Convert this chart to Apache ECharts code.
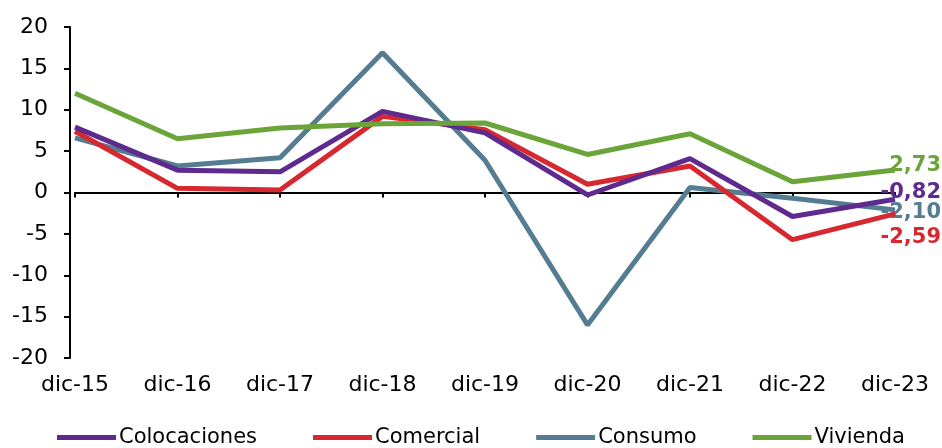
<!DOCTYPE html>
<html style="height: 100%">
<head>
<meta charset="UTF-8">
<title>Colocaciones</title>
<script src="https://cdn.jsdelivr.net/npm/echarts@6/dist/echarts.min.js"></script>
</head>
<body style="height: 100%;margin: 0">
<div id="chart" style="width:942px;height:448px"></div>
<script type="text/javascript">
// categories and values
var categories = ['dic-15','dic-16','dic-17','dic-18','dic-19','dic-20','dic-21','dic-22','dic-23'];
var colocaciones = [7.9, 2.7, 2.5, 9.8, 7.2, -0.3, 4.1, -2.9, -0.82];
var comercial = [7.4, 0.5, 0.3, 9.2, 7.6, 1.0, 3.2, -5.7, -2.59];
var consumo = [6.6, 3.2, 4.2, 16.9, 3.9, -16.0, 0.6, -0.7, -2.10];
var vivienda = [12.0, 6.5, 7.8, 8.3, 8.4, 4.6, 7.1, 1.3, 2.73];

var dom = document.getElementById("chart");
var myChart = echarts.init(dom);

var axisFont = {color: '#000', fontSize: 22, fontFamily: 'DejaVu Sans'};

function makeSeries(name, data, color, dy, z){
	return {
		name: name,
		type: 'line',
		data: data,
		z: z,
		symbol: 'none',
		lineStyle: {color: color, width: 5},
		itemStyle: {color: color},
		endLabel: {
			show: true,
			// comma as decimal mark, like the original
			formatter: function(p){ return p.value.toFixed(2).replace('.', ','); },
			color: color,
			fontSize: 21,
			fontWeight: 'bold',
			fontFamily: 'DejaVu Sans',
			align: 'right',
			offset: [38, dy]
		}
	};
}

var option = {
	animation: false,
	grid: {left: 75, right: 47, top: 27, bottom: 90},
	legend: {
		bottom: -5,
		left: 52,
		icon: 'rect',
		itemWidth: 59,
		itemHeight: 5,
		itemGap: 56,
		textStyle: {color: '#000', fontSize: 21, fontFamily: 'DejaVu Sans', padding: [0, 0, 0, -2]},
		data: ['Colocaciones','Comercial','Consumo','Vivienda']
	},
	xAxis: [{
		type: 'category',
		data: categories,
		boundaryGap: false,
		axisLine: {onZero: true, lineStyle: {color: '#000', width: 2}},
		axisTick: {show: true, length: 5, lineStyle: {color: '#000', width: 2}},
		axisLabel: {show: false},
		splitLine: {show: false}
	}, {
		type: 'category',
		data: categories,
		boundaryGap: false,
		position: 'bottom',
		axisLine: {show: false, onZero: false},
		axisTick: {show: false},
		axisLabel: Object.assign({margin: 16}, axisFont),
		splitLine: {show: false}
	}],
	yAxis: {
		type: 'value',
		min: -20,
		max: 20,
		interval: 5,
		offset: 5,
		axisLine: {show: true, lineStyle: {color: '#000', width: 2}},
		axisTick: {show: true, length: 6, lineStyle: {color: '#000', width: 2}},
		axisLabel: Object.assign({margin: 22}, axisFont),
		splitLine: {show: false}
	},
	series: [
		makeSeries('Colocaciones', colocaciones, '#5E2A8E', -7, 5),
		makeSeries('Comercial', comercial, '#D7282F', 24, 4),
		makeSeries('Consumo', consumo, '#547D91', 3, 3),
		makeSeries('Vivienda', vivienda, '#6BA539', -4, 6)
	]
};

myChart.setOption(option, true);
</script>
</body>
</html>
